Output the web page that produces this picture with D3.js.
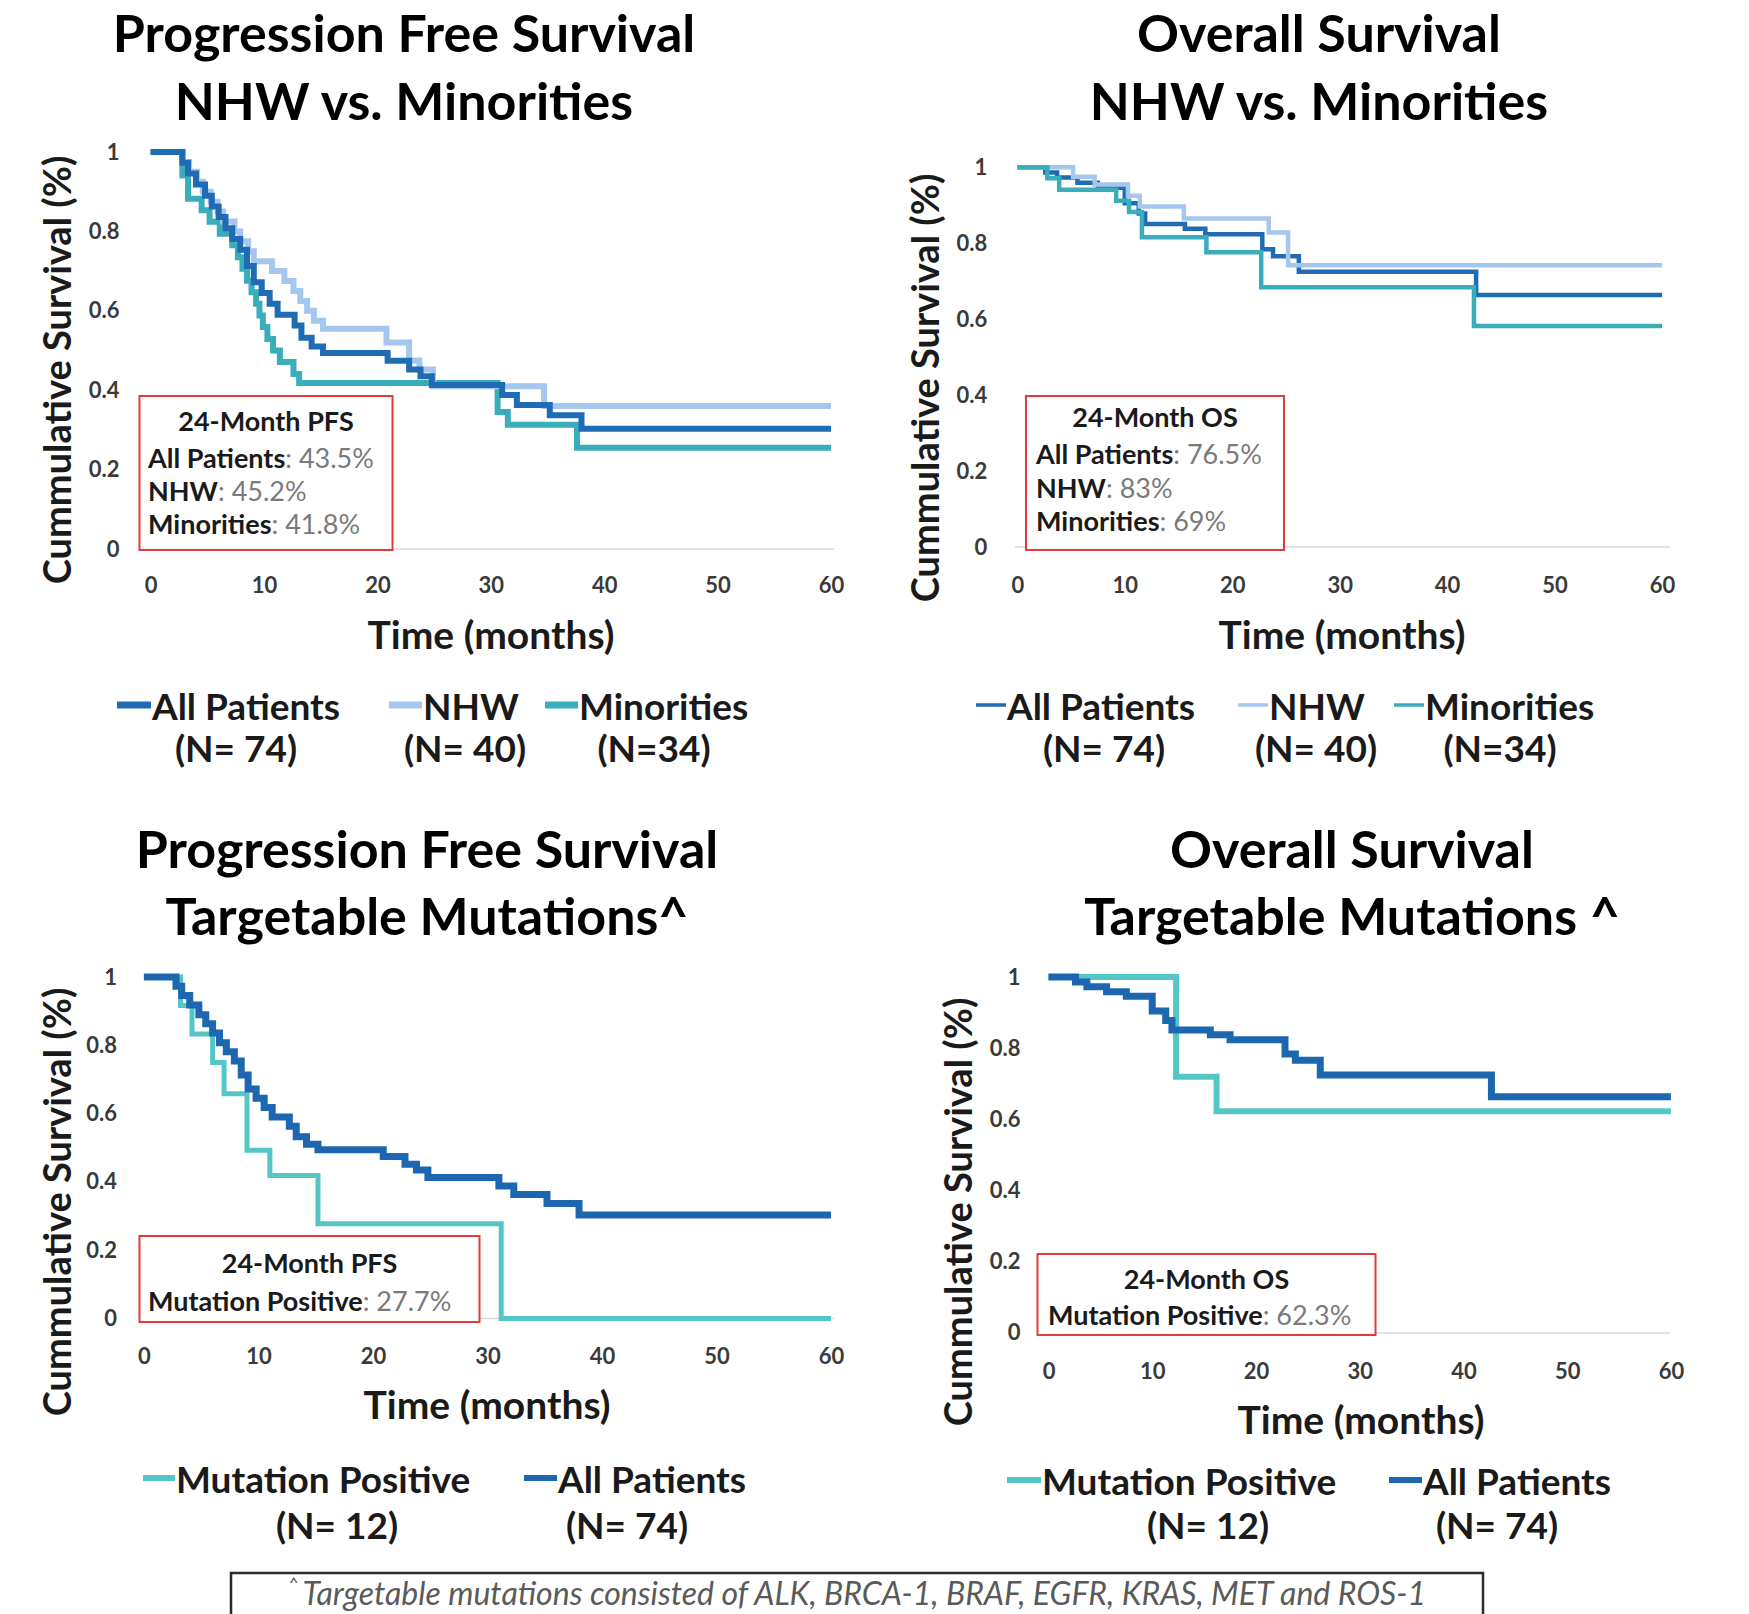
<!DOCTYPE html>
<html>
<head>
<meta charset="utf-8">
<script src="https://cdn.jsdelivr.net/npm/d3@7"></script>
<style>
  html, body { margin: 0; padding: 0; background: #fff; }
  svg { display: block; }
  text { font-family: Lato, "Open Sans", sans-serif; }
</style>
</head>
<body>
<svg id="chart" width="1749" height="1614"></svg>
<script>
// ---------- data ----------
const monthTicks = [0, 10, 20, 30, 40, 50, 60];
const survivalTicks = [0, 0.2, 0.4, 0.6, 0.8, 1];

// Kaplan–Meier steps: [month, cumulative survival from that month onward]
const pfsAllPatients = [[0,1],[2.8,0.973],[3.3,0.946],[4,0.918],[4.8,0.89],[5.4,0.863],[6,0.836],[6.6,0.808],[7.2,0.781],[7.9,0.754],[8.5,0.713],[9.1,0.672],[9.8,0.645],[10.5,0.618],[11.2,0.59],[12.7,0.563],[13.3,0.532],[14.2,0.51],[15.2,0.494],[20.9,0.474],[22.8,0.452],[23.8,0.435],[24.8,0.413],[31,0.388],[32.3,0.363],[35.2,0.337],[38,0.303]];
const pfsNhw = [[0,1],[2.8,0.975],[3.4,0.95],[4.1,0.925],[4.6,0.9],[5.3,0.875],[5.9,0.85],[6.4,0.825],[7.4,0.8],[7.9,0.775],[8.6,0.75],[9.1,0.725],[10.7,0.7],[11.8,0.675],[12.6,0.65],[13.2,0.625],[13.8,0.6],[14.4,0.575],[15.2,0.555],[20.8,0.52],[22.8,0.475],[23.7,0.452],[24.9,0.41],[34.7,0.36]];
const pfsMinorities = [[0,1],[2.8,0.941],[3.3,0.882],[4.5,0.853],[5.2,0.824],[6.1,0.794],[7.2,0.765],[7.7,0.735],[8.1,0.706],[8.5,0.676],[8.9,0.647],[9.3,0.618],[9.6,0.588],[9.9,0.559],[10.3,0.529],[10.8,0.5],[11.4,0.471],[12.6,0.441],[13.1,0.418],[30.6,0.345],[31.5,0.313],[37.6,0.255]];

const osAllPatients = [[0,1],[2.6,0.986],[3.7,0.973],[5.6,0.959],[7.5,0.946],[10,0.905],[11.3,0.878],[11.9,0.851],[15.6,0.838],[17.5,0.824],[22.8,0.784],[23.8,0.766],[26.2,0.725],[42.7,0.664]];
const osNhw = [[0,1],[5.2,0.975],[7.2,0.955],[10.3,0.925],[11.4,0.897],[15.5,0.865],[23.4,0.828],[25.2,0.742]];
const osMinorities = [[0,1],[2.8,0.971],[3.9,0.941],[9.2,0.912],[10.4,0.882],[11.6,0.816],[17.6,0.776],[22.7,0.684],[42.5,0.582]];

const pfsMutationPositive = [[0,1],[3.2,0.917],[4.2,0.833],[6,0.75],[7,0.658],[9,0.493],[11,0.419],[15.2,0.277],[31.2,0]];
const osMutationPositive = [[0,1],[12.3,0.72],[16.2,0.623]];

const raceGroups = ["All Patients", "NHW", "Minorities"];
const raceCounts = ["(N= 74)", "(N= 40)", "(N=34)"];
const mutationGroups = ["Mutation Positive", "All Patients"];
const mutationCounts = ["(N= 12)", "(N= 74)"];

const pfs24Race = [["All Patients", "43.5%"], ["NHW", "45.2%"], ["Minorities", "41.8%"]];
const os24Race = [["All Patients", "76.5%"], ["NHW", "83%"], ["Minorities", "69%"]];
const pfs24Mutation = [["Mutation Positive", "27.7%"]];
const os24Mutation = [["Mutation Positive", "62.3%"]];

const footnote = "Targetable mutations consisted of ALK, BRCA-1, BRAF, EGFR, KRAS, MET and ROS-1";

// ---------- styling & layout ----------
const COLOR = {
  all: "#1f6cb4",
  nhw: "#a5c7ee",
  minorities: "#3aadba",
  mutation: "#55c6c6",
  allMut: "#1d66b0",
  box: "#e23b3b",
  text: "#1a1a1a",
  tick: "#3a3a3a",
  value: "#7a7a7a"
};

const panels = [
  {
    title: ["Progression Free Survival", "NHW vs. Minorities"], titleX: 404, titleY: [52, 120],
    xRange: [150.6, 831], yRange: [549, 152], baseline: [139, 834],
    yPad: 31, xPad: 28,
    xTitle: [491, 634], yTitle: [56, 370],
    series: [
      { data: pfsMinorities, color: COLOR.minorities, width: 6 },
      { data: pfsNhw, color: COLOR.nhw, width: 6 },
      { data: pfsAllPatients, color: COLOR.all, width: 6 }
    ],
    box: { x: 139.5, y: 396, w: 253, h: 154, head: "24-Month PFS", headY: 420, rows: pfs24Race, rowX: 148, rowY: [457, 490, 523] },
    legend: {
      y: [705, 747], lineWidth: 7,
      items: [
        { name: raceGroups[0], n: raceCounts[0], color: COLOR.all, line: [117, 151], nx: 236 },
        { name: raceGroups[1], n: raceCounts[1], color: COLOR.nhw, line: [389, 422], nx: 465 },
        { name: raceGroups[2], n: raceCounts[2], color: COLOR.minorities, line: [545, 578], nx: 654 }
      ]
    }
  },
  {
    title: ["Overall Survival", "NHW vs. Minorities"], titleX: 1319, titleY: [52, 120],
    xRange: [1017.3, 1662], yRange: [547, 167.3], baseline: [1015, 1670],
    yPad: 30, xPad: 30,
    xTitle: [1342, 634], yTitle: [924, 388],
    series: [
      { data: osAllPatients, color: COLOR.all, width: 4.5 },
      { data: osNhw, color: COLOR.nhw, width: 4.5 },
      { data: osMinorities, color: COLOR.minorities, width: 4.5 }
    ],
    box: { x: 1026, y: 396, w: 258, h: 154, head: "24-Month OS", headY: 416, rows: os24Race, rowX: 1036, rowY: [453, 487, 520] },
    legend: {
      y: [705, 747], lineWidth: 3.5,
      items: [
        { name: raceGroups[0], n: raceCounts[0], color: COLOR.all, line: [976, 1006], nx: 1104 },
        { name: raceGroups[1], n: raceCounts[1], color: COLOR.nhw, line: [1238, 1268], nx: 1316 },
        { name: raceGroups[2], n: raceCounts[2], color: COLOR.minorities, line: [1394, 1424], nx: 1500 }
      ]
    }
  },
  {
    title: ["Progression Free Survival", "Targetable Mutations^"], titleX: 427, titleY: [868, 935],
    xRange: [143.9, 831], yRange: [1318.4, 977.1], baseline: [139, 834],
    yPad: 27, xPad: 30,
    xTitle: [487, 1404], yTitle: [56, 1202],
    series: [
      { data: pfsMutationPositive, color: COLOR.mutation, width: 5 },
      { data: pfsAllPatients, color: COLOR.allMut, width: 7 }
    ],
    box: { x: 139.5, y: 1236, w: 340, h: 86, head: "24-Month PFS", headY: 1262, rows: pfs24Mutation, rowX: 148, rowY: [1300] },
    legend: {
      y: [1478, 1524], lineWidth: 6,
      items: [
        { name: mutationGroups[0], n: mutationCounts[0], color: COLOR.mutation, line: [143, 175], nx: 337 },
        { name: mutationGroups[1], n: mutationCounts[1], color: COLOR.allMut, line: [524, 557], nx: 627 }
      ]
    }
  },
  {
    title: ["Overall Survival", "Targetable Mutations ^"], titleX: 1352, titleY: [868, 935],
    xRange: [1048.5, 1670.9], yRange: [1332.9, 977.1], baseline: [1045, 1670],
    yPad: 28, xPad: 30,
    xTitle: [1361, 1419], yTitle: [957, 1212],
    series: [
      { data: osMutationPositive, color: COLOR.mutation, width: 6 },
      { data: osAllPatients, color: COLOR.allMut, width: 7 }
    ],
    box: { x: 1037.5, y: 1254, w: 338, h: 81, head: "24-Month OS", headY: 1278, rows: os24Mutation, rowX: 1048, rowY: [1314] },
    legend: {
      y: [1480, 1524], lineWidth: 6,
      items: [
        { name: mutationGroups[0], n: mutationCounts[0], color: COLOR.mutation, line: [1007, 1041], nx: 1208 },
        { name: mutationGroups[1], n: mutationCounts[1], color: COLOR.allMut, line: [1389, 1422], nx: 1497 }
      ]
    }
  }
];

// ---------- drawing ----------
const svg = d3.select("#chart");
svg.append("rect").attr("width", 1749).attr("height", 1614).attr("fill", "#fff");

function drawPanel(p) {
  const g = svg.append("g");
  const x = d3.scaleLinear().domain([0, 60]).range(p.xRange);
  const y = d3.scaleLinear().domain([0, 1]).range(p.yRange);

  // two-line title
  p.title.forEach((t, i) => {
    g.append("text")
      .attr("x", p.titleX).attr("y", p.titleY[i])
      .attr("text-anchor", "middle")
      .attr("font-size", 52).attr("font-weight", "bold")
      .attr("fill", "#000")
      .text(t);
  });

  // light horizontal axis line at zero survival
  g.append("line")
    .attr("x1", p.baseline[0]).attr("x2", p.baseline[1])
    .attr("y1", y(0)).attr("y2", y(0))
    .attr("stroke", "#d9d9d9").attr("stroke-width", 1.5);

  // month axis
  const xa = g.append("g")
    .attr("transform", `translate(0,${y(0)})`)
    .call(d3.axisBottom(x).tickValues(monthTicks).tickSize(0).tickPadding(p.xPad));
  xa.select(".domain").remove();
  xa.attr("font-family", null).attr("font-size", null);
  xa.selectAll("text").attr("font-size", 22).attr("font-weight", "bold").attr("fill", COLOR.tick);

  // survival axis
  const ya = g.append("g")
    .attr("transform", `translate(${x(0)},0)`)
    .call(d3.axisLeft(y).tickValues(survivalTicks).tickFormat(d => String(d)).tickSize(0).tickPadding(p.yPad));
  ya.select(".domain").remove();
  ya.attr("font-family", null).attr("font-size", null);
  ya.selectAll("text").attr("font-size", 22).attr("font-weight", "bold").attr("fill", COLOR.tick);

  // axis titles
  g.append("text")
    .attr("x", p.xTitle[0]).attr("y", p.xTitle[1])
    .attr("text-anchor", "middle").attr("dominant-baseline", "central")
    .attr("font-size", 39).attr("font-weight", "bold").attr("fill", COLOR.text)
    .text("Time (months)");
  g.append("text")
    .attr("transform", `translate(${p.yTitle[0]},${p.yTitle[1]}) rotate(-90)`)
    .attr("text-anchor", "middle").attr("dominant-baseline", "central")
    .attr("font-size", 38).attr("font-weight", "bold").attr("fill", COLOR.text)
    .text("Cummulative Survival (%)");

  // survival curves
  const line = d3.line().x(d => x(d[0])).y(d => y(d[1])).curve(d3.curveStepAfter);
  p.series.forEach(s => {
    const pts = s.data.concat([[60, s.data[s.data.length - 1][1]]]);
    g.append("path")
      .attr("d", line(pts))
      .attr("fill", "none")
      .attr("stroke", s.color)
      .attr("stroke-width", s.width)
      .attr("stroke-linejoin", "miter");
  });

  // 24-month summary box
  const b = p.box;
  g.append("rect")
    .attr("x", b.x).attr("y", b.y).attr("width", b.w).attr("height", b.h)
    .attr("fill", "#fff").attr("stroke", COLOR.box).attr("stroke-width", 2);
  g.append("text")
    .attr("x", b.x + b.w / 2).attr("y", b.headY)
    .attr("text-anchor", "middle").attr("dominant-baseline", "central")
    .attr("font-size", 27).attr("font-weight", "bold").attr("fill", COLOR.text)
    .text(b.head);
  b.rows.forEach((r, i) => {
    const t = g.append("text")
      .attr("x", b.rowX).attr("y", b.rowY[i])
      .attr("dominant-baseline", "central")
      .attr("font-size", 27);
    t.append("tspan").attr("font-weight", "bold").attr("fill", COLOR.text).text(r[0]);
    t.append("tspan").attr("fill", COLOR.value).text(": " + r[1]);
  });

  // legend
  const L = p.legend;
  L.items.forEach(it => {
    g.append("line")
      .attr("x1", it.line[0]).attr("x2", it.line[1])
      .attr("y1", L.y[0]).attr("y2", L.y[0])
      .attr("stroke", it.color).attr("stroke-width", L.lineWidth);
    g.append("text")
      .attr("x", it.line[1] + 1).attr("y", L.y[0])
      .attr("dominant-baseline", "central")
      .attr("font-size", 37).attr("font-weight", "bold").attr("fill", COLOR.text)
      .text(it.name);
    g.append("text")
      .attr("x", it.nx).attr("y", L.y[1])
      .attr("text-anchor", "middle").attr("dominant-baseline", "central")
      .attr("font-size", 37).attr("font-weight", "bold").attr("fill", COLOR.text)
      .text(it.n);
  });
}

panels.forEach(drawPanel);

// footnote box
const fn = svg.append("g");
fn.append("path")
  .attr("d", "M231,1614 V1573 H1483 V1614")
  .attr("fill", "none").attr("stroke", "#2b2b2b").attr("stroke-width", 2.5);
const ft = fn.append("text")
  .attr("x", 857).attr("y", 1592)
  .attr("text-anchor", "middle").attr("dominant-baseline", "central")
  .attr("font-size", 32).attr("font-style", "italic").attr("fill", "#5a5a5a");
ft.append("tspan").attr("font-size", 18).attr("dy", -9).text("^ ");
ft.append("tspan").attr("dy", 9).text(footnote);
</script>
</body>
</html>
